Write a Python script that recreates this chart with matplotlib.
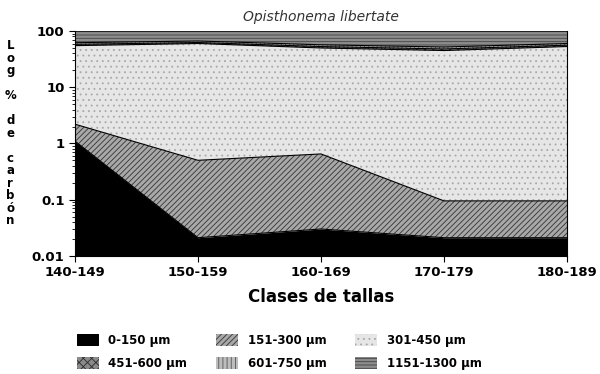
import numpy as np
import matplotlib
matplotlib.use("Agg")
from matplotlib import pyplot as plt

plt.rcParams['font.family'] = ['DejaVu Sans']
plt.rcParams['hatch.linewidth'] = 0.6

clases = ["140-149", "150-159", "160-169", "170-179", "180-189"]
tallas = ["0-150 µm", "151-300 µm", "301-450 µm", "451-600 µm", "601-750 µm", "1151-1300 µm"]

# % de carbono por clase de talla
p0_150 = [1.1, 0.021, 0.03, 0.021, 0.021]
p151_300 = [1.1, 0.48, 0.62, 0.074, 0.074]
p301_450 = [52.8, 59.5, 49.3, 44.9, 52.9]
p451_600 = [3.0, 2.5, 3.0, 3.0, 3.0]
p601_750 = [4.0, 4.0, 4.0, 4.0, 4.0]
p1151_1300 = [38.0, 33.5, 43.0, 48.0, 40.0]

capas = [p0_150, p151_300, p301_450, p451_600, p601_750, p1151_1300]
# (facecolor, hatch, color del rayado)
estilos = [
    ('black', None, 'black'),
    ('#a8a8a8', '//////', '#333333'),
    ('#e6e6e6', '...', '#a8a8a8'),
    ('#8a8a8a', 'xxxx', '#2a2a2a'),
    ('#bdbdbd', '||||', '#555555'),
    ('#8c8c8c', '-----', '#444444'),
]

fig = plt.figure(figsize=(6, 3.74), dpi=100)
ax = fig.add_axes([0.125, 0.316, 0.82, 0.601])

x = np.arange(len(clases))
abajo = np.full(len(clases), 1e-3)
handles = []
for vals, (fc, h, hc), nom in zip(capas, estilos, tallas):
    arriba = abajo + np.array(vals) if abajo[0] > 1e-3 else np.array(vals, dtype=float)
    poly = ax.fill_between(x, abajo, arriba, facecolor=fc, hatch=h, edgecolor=hc,
                           linewidth=0, label=nom)
    ax.plot(x, arriba, color='black', lw=0.8)
    handles.append(poly)
    abajo = arriba

ax.set_yscale('log')
ax.set_ylim(0.01, 100)
ax.set_xlim(0, len(clases) - 1)
ax.set_xticks(x)
ax.set_xticklabels(clases, fontsize=9.5, fontweight='bold')
ax.set_yticks([0.01, 0.1, 1, 10, 100])
ax.set_yticklabels(["0.01", "0.1", "1", "10", "100"], fontsize=9.5, fontweight='bold')
ax.tick_params(axis='y', which='major', length=4, width=0.8)
ax.tick_params(axis='y', which='minor', length=2.5, width=0.6)
ax.tick_params(axis='x', length=4, width=0.8)
ax.spines['top'].set_visible(False)
ax.spines['left'].set_linewidth(0.8)
ax.spines['right'].set_linewidth(0.8)
ax.spines['bottom'].set_linewidth(0.8)

ax.set_title("Opisthonema libertate", fontsize=10, style='italic',
             fontweight='light', color='#333333', pad=7)
ax.set_xlabel("Clases de tallas", fontsize=12, fontweight='bold', labelpad=6)

fig.text(0.017, 0.895, "L\no\ng\n\n%\n\nd\ne\n\nc\na\nr\nb\nó\nn", fontsize=8.5,
         fontweight='bold', ha='center', va='top', linespacing=0.95)

orden = [0, 3, 1, 4, 2, 5]
fig.legend([handles[i] for i in orden], [tallas[i] for i in orden], ncol=3,
           loc='lower left', bbox_to_anchor=(0.11, -0.018), frameon=False,
           prop={'size': 8.5, 'weight': 'bold'}, handlelength=1.9, handleheight=1.1,
           columnspacing=2.4, labelspacing=0.85)

plt.savefig("out.png", dpi=100)
